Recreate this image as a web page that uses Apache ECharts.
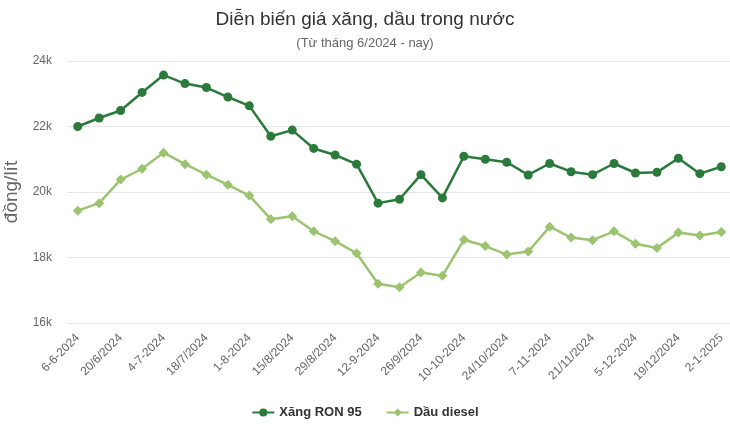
<!DOCTYPE html>
<html>
<head>
<meta charset="utf-8">
<script src="https://cdn.jsdelivr.net/npm/echarts@6/dist/echarts.min.js"></script>
<style>
html, body { margin: 0; padding: 0; background: #fff; }
#container { width: 730px; height: 426px; }
</style>
</head>
<body>
<div id="container"></div>
<script>
// moc gia theo ky dieu chinh (7 ngay / lan)
var dates = ['6-6-2024', '13/6/2024', '20/6/2024', '27/6/2024', '4-7-2024', '11-7-2024', '18/7/2024', '25/7/2024',
    '1-8-2024', '8-8-2024', '15/8/2024', '22/8/2024', '29/8/2024', '5-9-2024', '12-9-2024', '19/9/2024',
    '26/9/2024', '3-10-2024', '10-10-2024', '17/10/2024', '24/10/2024', '31/10/2024', '7-11-2024', '14/11/2024',
    '21/11/2024', '28/11/2024', '5-12-2024', '12-12-2024', '19/12/2024', '26/12/2024', '2-1-2025'];

var ron95 = [22000, 22260, 22490, 23040, 23570, 23310, 23190, 22900, 22630, 21700, 21890, 21330, 21130, 20850,
    19660, 19780, 20530, 19820, 21090, 21000, 20910, 20520, 20870, 20620, 20530, 20870, 20580, 20600, 21030, 20560, 20770];

var diesel = [19430, 19660, 20380, 20710, 21200, 20850, 20530, 20220, 19890, 19170, 19260, 18800, 18500, 18130,
    17200, 17090, 17540, 17440, 18540, 18350, 18090, 18180, 18940, 18610, 18530, 18800, 18420, 18290, 18760, 18670, 18780];

var yTicks = [16000, 18000, 20000, 22000, 24000];

function showChart() {
    var myChart = echarts.init(document.getElementById('container'));
    myChart.setOption({
        textStyle: { fontFamily: 'Liberation Sans, Arial, sans-serif' },
        title: {
            text: 'Diễn biến giá xăng, dầu trong nước',
            subtext: '(Từ tháng 6/2024 - nay)',
            left: 'center',
            top: 5,
            itemGap: 8,
            textStyle: { fontSize: 19, fontWeight: 'normal', color: '#333' },
            subtextStyle: { fontSize: 13, color: '#666' }
        },
        legend: {
            bottom: 2,
            left: 'center',
            itemWidth: 22,
            itemHeight: 10,
            itemGap: 24,
            textStyle: { fontSize: 13, fontWeight: 'bold', color: '#333' },
            data: ['Xăng RON 95', 'Dầu diesel']
        },
        grid: { left: 67, width: 665, top: 61, bottom: 103, outerBoundsMode: 'none', containLabel: false },
        xAxis: {
            type: 'category',
            data: dates,
            boundaryGap: true,
            axisLine: { show: false },
            axisTick: { show: false },
            axisLabel: {
                interval: 1,
                rotate: 45,
                fontSize: 12,
                color: '#666',
                margin: 13
            }
        },
        yAxis: {
            type: 'value',
            min: yTicks[0],
            max: yTicks[yTicks.length - 1],
            interval: 2000,
            name: 'đồng/lít',
            nameLocation: 'middle',
            nameRotate: 90,
            nameGap: 45,
            nameTextStyle: { fontSize: 19, color: '#666' },
            axisLabel: {
                fontSize: 12,
                color: '#666',
                margin: 15,
                formatter: function (v) { return (v / 1000) + 'k'; }
            },
            splitLine: { lineStyle: { color: '#e6e6e6' } }
        },
        series: [
            {
                name: 'Xăng RON 95',
                type: 'line',
                data: ron95,
                symbol: 'circle',
                symbolSize: 9,
                color: '#2b7a3b',
                lineStyle: { width: 2.5 }
            },
            {
                name: 'Dầu diesel',
                type: 'line',
                data: diesel,
                symbol: 'diamond',
                symbolSize: 10,
                color: '#9cc36f',
                lineStyle: { width: 2.5 }
            }
        ]
    });
}

showChart();
</script>
</body>
</html>
